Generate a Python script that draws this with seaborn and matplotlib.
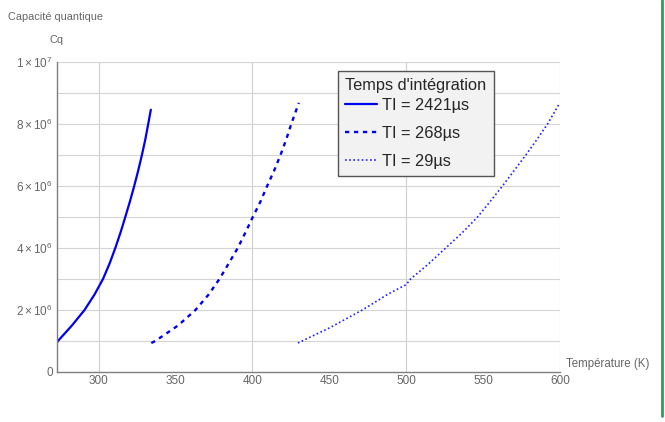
import numpy as np
import pandas as pd
import seaborn as sns
import matplotlib.pyplot as plt
from matplotlib.ticker import FixedLocator, FuncFormatter
from matplotlib.lines import Line2D

# values (T in K, Cq)
t_2421 = [273.0, 273.6, 282.7, 290.9, 297.4, 302.9, 307.2, 310.9, 314.3, 317.4,
          320.4, 323.2, 325.8, 328.2, 330.4, 332.3, 334.0]
cq_2421 = [0.95e6, 1.0e6, 1.5e6, 2.0e6, 2.5e6, 3.0e6, 3.5e6, 4.0e6, 4.5e6, 5.0e6,
           5.5e6, 6.0e6, 6.5e6, 7.0e6, 7.5e6, 8.0e6, 8.46e6]

t_268 = [334.3, 336.9, 351.7, 363.0, 371.6, 378.6, 384.6, 390.5, 395.5, 400.3,
         405.3, 409.6, 414.2, 418.3, 422.0, 425.3, 430.2]
cq_268 = [0.935e6, 1.0e6, 1.5e6, 2.0e6, 2.5e6, 3.0e6, 3.5e6, 4.0e6, 4.5e6, 5.0e6,
          5.5e6, 6.0e6, 6.5e6, 7.0e6, 7.5e6, 8.0e6, 8.68e6]

t_29 = [429.6, 450.0, 453.0, 471.5, 487.8, 500.0, 502.9, 514.8, 525.7, 536.6, 546.4,
        554.6, 562.6, 570.2, 577.8, 585.0, 591.9, 599.5]
cq_29 = [0.935e6, 1.42e6, 1.5e6, 2.0e6, 2.5e6, 2.82e6, 3.0e6, 3.5e6, 4.0e6, 4.5e6, 5.0e6,
         5.5e6, 6.0e6, 6.5e6, 7.0e6, 7.5e6, 8.0e6, 8.65e6]

labels = ['TI = 2421µs', 'TI = 268µs', 'TI = 29µs']
x_ticks = [300, 350, 400, 450, 500, 550, 600]
y_ticks = [0, 2e6, 4e6, 6e6, 8e6, 1e7]

sns.set_style('white')
plt.rcParams['font.family'] = ['Liberation Sans', 'DejaVu Sans']
plt.rcParams['mathtext.fontset'] = 'custom'
plt.rcParams['mathtext.rm'] = 'Liberation Sans'
plt.rcParams['mathtext.it'] = 'Liberation Sans'

fig = plt.figure(figsize=(6.65, 4.22), dpi=100)
ax = fig.add_axes([57 / 665, 1 - 372 / 422, (560 - 57) / 665, (372 - 62) / 422])

grey = '#7f7f7f'
sns.lineplot(x=t_2421, y=cq_2421, ax=ax, color='#0000ee', lw=1.6, label=labels[0])
sns.lineplot(x=t_268, y=cq_268, ax=ax, color='#0000ee', lw=1.7, linestyle=(0, (1.8, 2.0)), label=labels[1])
sns.lineplot(x=t_29, y=cq_29, ax=ax, color='#2020ff', lw=1.2, linestyle=(0, (1, 1.5)), label=labels[2])

ax.set_xlim(273, 600)
ax.set_ylim(0, 1e7)

# grid: vertical every 100, horizontal every 1e6
for xv in [300, 400, 500, 600]:
    ax.axvline(xv, color='#cfcfcf', lw=0.8, zorder=0)
for yv in np.arange(1e6, 1.01e7, 1e6):
    ax.axhline(yv, color='#d4d4d4', lw=0.8, zorder=0)

ax.xaxis.set_major_locator(FixedLocator(x_ticks))
ax.yaxis.set_major_locator(FixedLocator(y_ticks))
ax.yaxis.set_minor_locator(FixedLocator(np.arange(0, 1.01e7, 5e5)))


def sci(v, pos):
    if v == 0:
        return '0'
    e = int(np.floor(np.log10(v)))
    m = v / 10 ** e
    return r'$%d\times10^{%d}$' % (round(m), e)


ax.yaxis.set_major_formatter(FuncFormatter(sci))
ax.tick_params(axis='both', which='major', direction='in', length=4, width=0.8,
               color=grey, labelcolor='#666666', labelsize=8.5, pad=3)
ax.tick_params(axis='y', which='minor', direction='in', length=2, width=0.6, color=grey)
ax.tick_params(axis='x', which='major', pad=2)

for s in ['top', 'right']:
    ax.spines[s].set_visible(False)
for s in ['left', 'bottom']:
    ax.spines[s].set_color(grey)
    ax.spines[s].set_linewidth(1.0)

ax.set_xlabel('')
ax.set_ylabel('')
fig.text(56 / 665, 1 - 17 / 422, 'Capacité quantique', ha='center', va='center',
         fontsize=7.9, color='#666666')
fig.text(57 / 665, 1 - 40 / 422, 'Cq', ha='center', va='center', fontsize=7.9, color='#666666')
fig.text(566 / 665, 1 - 364 / 422, 'Température (K)', ha='left', va='center',
         fontsize=8.3, color='#666666')

leg = ax.legend(loc='upper left', bbox_to_anchor=(338 / 665, 1 - 71 / 422),
                bbox_transform=fig.transFigure, title="Temps d'intégration",
                fontsize=11.8, title_fontsize=11.8, frameon=True, fancybox=False,
                handlelength=1.9, handletextpad=0.35, labelspacing=0.8,
                borderpad=0.45, borderaxespad=0)
leg._legend_box.align = 'left'
leg._legend_box.sep = 3
leg.get_frame().set_facecolor('#f2f2f2')
leg.get_frame().set_edgecolor('#555555')
leg.get_frame().set_linewidth(1.0)
leg.get_frame().set_alpha(1)

# green border on the right edge
fig.add_artist(Line2D([662 / 665, 662 / 665], [0.015, 1], transform=fig.transFigure,
                      color='#2e9e5e', lw=2))

fig.savefig('out.png', dpi=100)
